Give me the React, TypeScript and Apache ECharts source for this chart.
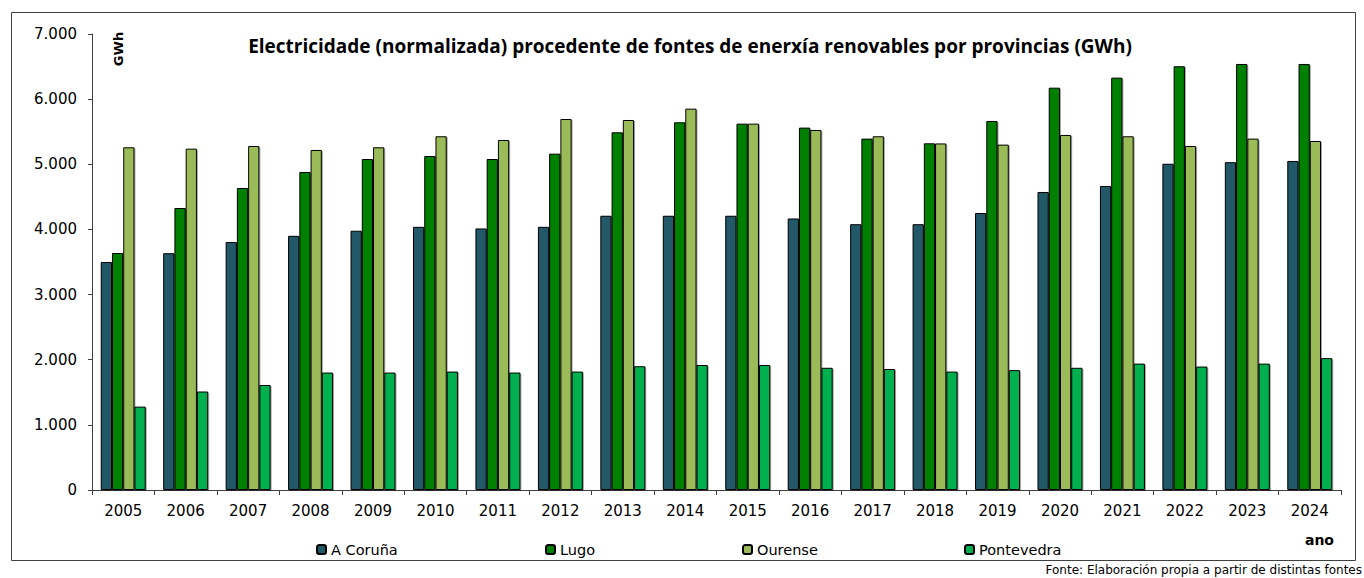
import React, { useEffect, useRef } from "react";
import * as echarts from "echarts";

const years = ["2005","2006","2007","2008","2009","2010","2011","2012","2013","2014","2015","2016","2017","2018","2019","2020","2021","2022","2023","2024"];
const aCoruna = [3500,3635,3807,3902,3980,4040,4015,4040,4210,4210,4210,4168,4080,4080,4252,4575,4667,5008,5032,5051];
const lugo = [3638,4329,4636,4882,5081,5127,5081,5163,5491,5645,5624,5563,5394,5322,5665,6176,6330,6505,6540,6540];
const ourense = [5261,5240,5281,5220,5261,5430,5373,5695,5680,5854,5624,5527,5430,5320,5302,5450,5430,5281,5394,5358];
const pontevedra = [1280,1512,1612,1803,1803,1818,1803,1818,1900,1919,1919,1876,1857,1818,1840,1876,1940,1895,1940,2024];
const yTicks = [0, 1000, 2000, 3000, 4000, 5000, 6000, 7000];

const seriesDefs = [
  { name: "A Coruña", data: aCoruna, color: "#215968" },
  { name: "Lugo", data: lugo, color: "#008000" },
  { name: "Ourense", data: ourense, color: "#9BBB59" },
  { name: "Pontevedra", data: pontevedra, color: "#00B050" },
];
const legendLefts = [316, 545, 742, 964];

const FONT = "DejaVu Sans";

export default function App() {
  const ref = useRef<HTMLDivElement>(null);
  useEffect(() => {
    if (!ref.current) return;
    const chart = echarts.init(ref.current, null, { renderer: "svg" });
    chart.setOption({
      animation: false,
      backgroundColor: "#ffffff",
      title: {
        text: "Electricidade (normalizada) procedente de fontes de enerxía renovables por provincias (GWh)",
        left: 685,
        textAlign: "center",
        top: 31,
        textStyle: { fontFamily: "Open Sans", fontWeight: "bold", fontSize: 19, color: "#000" },
      },
      legend: seriesDefs.map((s, i) => ({
        data: [s.name],
        left: legendLefts[i],
        top: 542,
        itemWidth: 9,
        itemHeight: 9,
        itemGap: 0,
        padding: 0,
        textStyle: { fontFamily: FONT, fontSize: 14.5, color: "#000" },
      })),
      grid: { left: 92, right: 23, top: 34, bottom: 88, containLabel: false },
      xAxis: {
        type: "category",
        data: years,
        axisLine: { lineStyle: { color: "#404040", width: 1 } },
        axisTick: { show: true, length: 5, lineStyle: { color: "#404040" } },
        axisLabel: { fontFamily: FONT, fontSize: 15, color: "#000", margin: 13 },
      },
      yAxis: {
        type: "value",
        min: 0,
        max: 7000,
        interval: 1000,
        axisLine: { show: true, lineStyle: { color: "#404040", width: 1 } },
        axisTick: { show: true, length: 4, lineStyle: { color: "#404040" } },
        splitLine: { show: false },
        axisLabel: {
          fontFamily: FONT,
          fontSize: 15,
          color: "#000",
          margin: 15,
          formatter: (v: number) => (yTicks.includes(v) ? (v === 0 ? "0" : (v / 1000).toFixed(0) + ".000") : ""),
        },
      },
      series: seriesDefs.map((s) => ({
        name: s.name,
        type: "bar",
        data: s.data,
        barGap: "0%",
        barCategoryGap: "28%",
        itemStyle: {
          color: s.color,
          borderColor: "#000",
          borderWidth: 1,
          shadowColor: "rgba(0,0,0,0.35)",
          shadowBlur: 1,
          shadowOffsetX: 1,
          shadowOffsetY: 1,
        },
      })),
      graphic: [
        {
          type: "rect",
          shape: { x: 11.5, y: 12.5, width: 1344, height: 548 },
          style: { fill: "none", stroke: "#404040", lineWidth: 1 },
          silent: true,
        },
        {
          type: "text",
          x: 118,
          y: 49,
          rotation: Math.PI / 2,
          style: { text: "GWh", fontFamily: FONT, fontWeight: "bold", fontSize: 13, fill: "#000", align: "center", verticalAlign: "middle" },
        },
        {
          type: "text",
          x: 1334,
          y: 540,
          style: { text: "ano", fontFamily: FONT, fontWeight: "bold", fontSize: 14, fill: "#000", align: "right", verticalAlign: "middle" },
        },
        {
          type: "text",
          x: 1362,
          y: 570,
          style: { text: "Fonte: Elaboración propia a partir de distintas fontes", fontFamily: FONT, fontSize: 12, fill: "#000", align: "right", verticalAlign: "middle" },
        },
      ],
    });
    return () => chart.dispose();
  }, []);
  return <div ref={ref} style={{ position: "fixed", left: 0, top: 0, width: 1364, height: 578 }} />;
}
